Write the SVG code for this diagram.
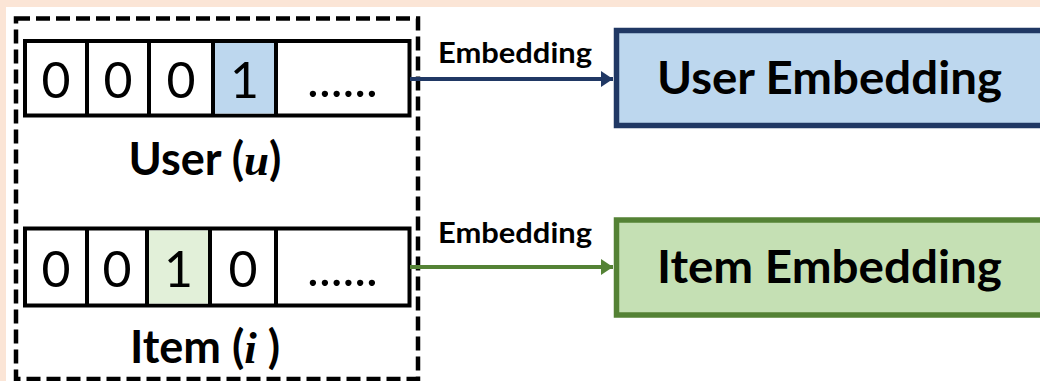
<svg xmlns="http://www.w3.org/2000/svg" width="1040" height="381" viewBox="0 0 1040 381">
<style>
.cell{fill:#FFFFFF;stroke:#000;stroke-width:4}
.div{stroke:#000;stroke-width:4}
.dig{font-family:Lato,"Liberation Sans",sans-serif;font-size:50px;fill:#000;text-anchor:middle}
.lab{font-family:Lato,"Liberation Sans",sans-serif;font-weight:bold;font-size:45px;fill:#000;text-anchor:middle}
.math{font-family:"Liberation Serif",serif;font-style:italic;font-weight:bold}
.emb{font-family:Lato,"Liberation Sans",sans-serif;font-weight:bold;font-size:29px;fill:#000}
.big{font-family:Lato,"Liberation Sans",sans-serif;font-weight:bold;font-size:45px;fill:#000}
</style>
<defs>
<marker id="ab" markerUnits="userSpaceOnUse" markerWidth="12" markerHeight="16" refX="12" refY="8" orient="auto"><path d="M0,0 L12,8 L0,16 Z" fill="#203864"/></marker>
<marker id="ag" markerUnits="userSpaceOnUse" markerWidth="12" markerHeight="16" refX="12" refY="8" orient="auto"><path d="M0,0 L12,8 L0,16 Z" fill="#548235"/></marker>
</defs>
<rect x="0" y="0" width="1040" height="381" fill="#FBE5D6"/>
<rect x="6" y="7" width="1034" height="374" fill="#FFFFFF"/>
<g id="input-box">
<rect x="16" y="18.5" width="402" height="360.5" fill="none" stroke="#000" stroke-width="4.5" stroke-dasharray="14 6"/>
</g>
<g id="user-vector">
<rect class="cell" x="25" y="41" width="384.5" height="74.5"/>
<rect x="213" y="43" width="63" height="70.5" fill="#BDD7EE"/>
<line class="div" x1="87" y1="41" x2="87" y2="115.5"/>
<line class="div" x1="149" y1="41" x2="149" y2="115.5"/>
<line class="div" x1="213" y1="41" x2="213" y2="115.5"/>
<line class="div" x1="276" y1="41" x2="276" y2="115.5"/>
<text class="dig" x="56" y="98">0</text>
<text class="dig" x="118" y="98">0</text>
<text class="dig" x="181" y="98">0</text>
<text class="dig" x="244.5" y="98">1</text>
<text class="dig" x="342.5" y="97">......</text>
<text class="lab" x="205" y="175">User (<tspan class="math">u</tspan>)</text>
</g>
<g id="item-vector">
<rect class="cell" x="25" y="228.5" width="384.5" height="77"/>
<rect x="147" y="230.5" width="63" height="73" fill="#E2F0D9"/>
<line class="div" x1="87" y1="228.5" x2="87" y2="305.5"/>
<line class="div" x1="147" y1="228.5" x2="147" y2="305.5"/>
<line class="div" x1="210" y1="228.5" x2="210" y2="305.5"/>
<line class="div" x1="276" y1="228.5" x2="276" y2="305.5"/>
<text class="dig" x="56" y="287">0</text>
<text class="dig" x="117" y="287">0</text>
<text class="dig" x="178.5" y="287">1</text>
<text class="dig" x="243" y="287">0</text>
<text class="dig" x="342.5" y="286">......</text>
<text class="lab" x="205" y="363">Item (<tspan class="math">i</tspan> )</text>
</g>
<g id="connectors">
<line x1="410" y1="79" x2="613" y2="79" stroke="#203864" stroke-width="4" marker-end="url(#ab)"/>
<text class="emb" x="438" y="63" textLength="154" lengthAdjust="spacingAndGlyphs">Embedding</text>
<line x1="410" y1="267" x2="613" y2="267" stroke="#548235" stroke-width="4" marker-end="url(#ag)"/>
<text class="emb" x="438" y="243" textLength="154" lengthAdjust="spacingAndGlyphs">Embedding</text>
</g>
<g id="user-embedding">
<rect x="616.5" y="30.5" width="440" height="95" fill="#BDD7EE" stroke="#203864" stroke-width="5.5"/>
<text class="big" x="657" y="94" textLength="345" lengthAdjust="spacingAndGlyphs">User Embedding</text>
</g>
<g id="item-embedding">
<rect x="616.5" y="220" width="440" height="95" fill="#C5E0B4" stroke="#548235" stroke-width="5.5"/>
<text class="big" x="657" y="283" textLength="345" lengthAdjust="spacingAndGlyphs">Item Embedding</text>
</g>
</svg>
